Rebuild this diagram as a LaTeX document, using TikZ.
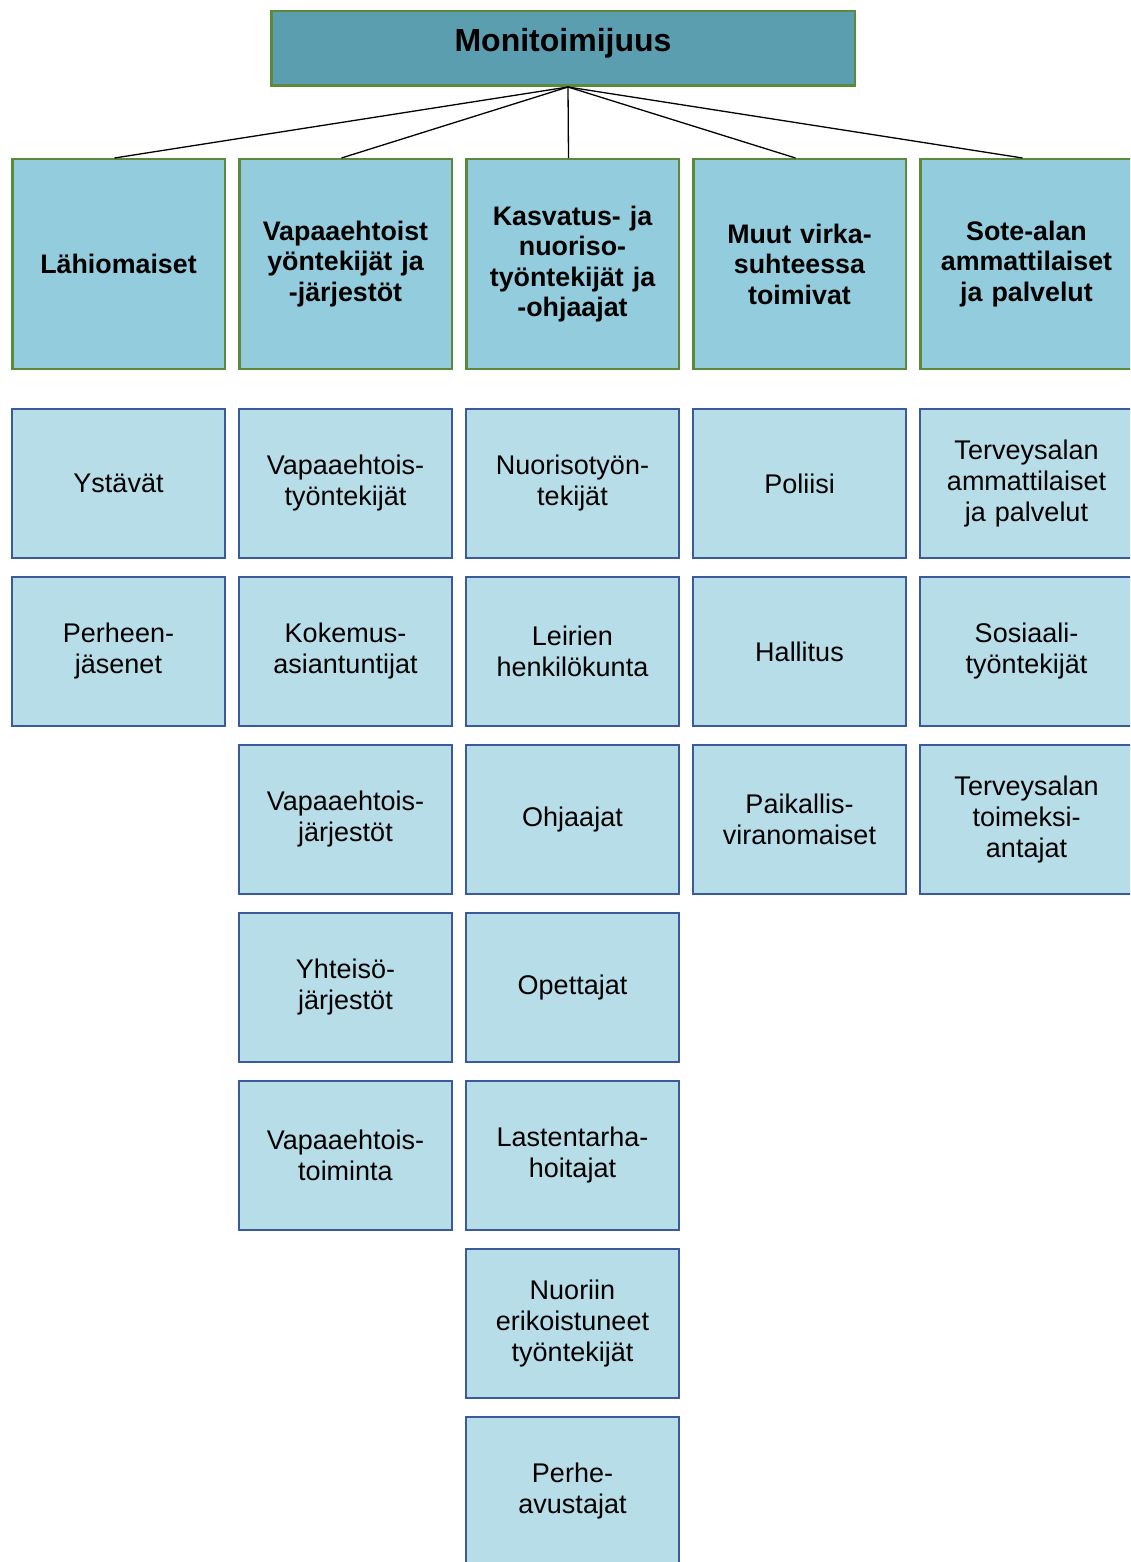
\documentclass[tikz,border=0pt]{standalone}
\usepackage{fontspec}
\setmainfont{Liberation Sans}
\usepackage{tikz}

\definecolor{tummasini}{HTML}{5B9EB0}
\definecolor{vaaleasini}{HTML}{93CDDD}
\definecolor{haalea}{HTML}{B7DDE8}
\definecolor{vihrea}{HTML}{5A8A3A}
\definecolor{reunasini}{HTML}{3A5A9A}

\tikzset{
  paabox/.style={draw=vihrea, fill=tummasini, line width=2.5pt, anchor=north west,
    minimum width=583.5pt, minimum height=74.5pt, text height=24pt, text depth=17pt,
    font=\fontsize{32}{36}\selectfont\bfseries},
  ryhmabox/.style={draw=vihrea, fill=vaaleasini, line width=2.5pt, anchor=north west,
    minimum width=212.5pt, minimum height=209.5pt, text width=204pt, inner xsep=4pt,
    align=center, font=\fontsize{26.8}{30.5}\selectfont\bfseries},
  jasenbox/.style={draw=reunasini, fill=haalea, line width=2.2pt, anchor=north west,
    minimum width=212.8pt, minimum height=148.8pt, text width=204pt, inner xsep=4pt,
    align=center, font=\fontsize{27}{31}\selectfont},
  yhteys/.style={draw=black, line width=1.3pt}
}

\begin{document}
\begin{tikzpicture}[x=1pt, y=-1pt]
\clip (0,0) rectangle (1130,1562);
% Otsikko
\node[paabox] (paa) at (270,10) {Monitoimijuus};

% Ryhmat
\node[ryhmabox] (lahi) at (11,158) {Lähiomaiset};
\node[ryhmabox] (vapaa) at (238,158) {Vapaaehtoist\\yöntekijät ja\\-järjestöt};
\node[ryhmabox] (kasvatus) at (465,158) {Kasvatus- ja\\nuoriso-\\työntekijät ja\\-ohjaajat};
\node[ryhmabox] (virka) at (692,158) {Muut virka-\\suhteessa\\toimivat};
\node[ryhmabox] (sote) at (919,158) {Sote-alan\\ammattilaiset\\ja palvelut};

% Yhteydet
\coordinate (haara) at ([xshift=5pt]paa.south);
\draw[yhteys] (haara) -- ([xshift=-4pt]lahi.north);
\draw[yhteys] (haara) -- ([xshift=-4pt]vapaa.north);
\draw[yhteys] (haara) -- ([xshift=-4pt]kasvatus.north);
\draw[yhteys] (haara) -- ([xshift=-4pt]virka.north);
\draw[yhteys] (haara) -- ([xshift=-4pt]sote.north);

% Lahiomaiset
\node[jasenbox] (ystavat) at (11,408) {Ystävät};
\node[jasenbox] (perheen) at (11,576) {Perheen-\\jäsenet};

% Vapaaehtoiset
\node[jasenbox] (vtyontekijat) at (238,408) {Vapaaehtois-\\työntekijät};
\node[jasenbox] (kokemus) at (238,576) {Kokemus-\\asiantuntijat};
\node[jasenbox] (vjarjestot) at (238,744) {Vapaaehtois-\\järjestöt};
\node[jasenbox] (yhteiso) at (238,912) {Yhteisö-\\järjestöt};
\node[jasenbox] (vtoiminta) at (238,1080) {Vapaaehtois-\\toiminta};

% Kasvatus
\node[jasenbox] (nuoriso) at (465,408) {Nuorisotyön-\\tekijät};
\node[jasenbox] (leirit) at (465,576) {Leirien\\henkilökunta};
\node[jasenbox] (ohjaajat) at (465,744) {Ohjaajat};
\node[jasenbox] (opettajat) at (465,912) {Opettajat};
\node[jasenbox] (lastentarha) at (465,1080) {Lastentarha-\\hoitajat};
\node[jasenbox] (nuoriin) at (465,1248) {Nuoriin\\erikoistuneet\\työntekijät};
\node[jasenbox] (perhe) at (465,1416) {Perhe-\\avustajat};

% Muut viranomaiset
\node[jasenbox] (poliisi) at (692,408) {Poliisi};
\node[jasenbox] (hallitus) at (692,576) {Hallitus};
\node[jasenbox] (paikallis) at (692,744) {Paikallis-\\viranomaiset};

% Sote
\node[jasenbox] (terveys) at (919,408) {Terveysalan\\ammattilaiset\\ja palvelut};
\node[jasenbox] (sosiaali) at (919,576) {Sosiaali-\\työntekijät};
\node[jasenbox] (toimeksi) at (919,744) {Terveysalan\\toimeksi-\\antajat};
\end{tikzpicture}
\end{document}
